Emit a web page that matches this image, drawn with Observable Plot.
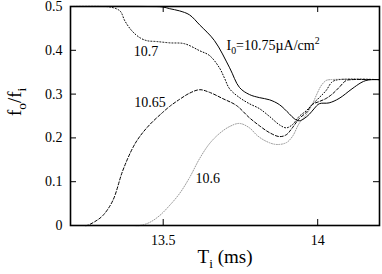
<!DOCTYPE html>
<html>
<head>
<meta charset="utf-8">
<script src="https://cdn.jsdelivr.net/npm/d3@7"></script>
<script src="https://cdn.jsdelivr.net/npm/@observablehq/plot@0.6"></script>
<style>
  html, body { margin: 0; padding: 0; background: white; }
  svg, svg text, svg tspan { font-family: "Liberation Serif", "Times New Roman", Times, "DejaVu Serif", serif !important; }
</style>
</head>
<body>
<script>
// ---- data (T_i in ms, f_o/f_i) ----
const series1075 = [[13.20,0.5],[13.45,0.5],[13.498,0.499],[13.521,0.495],[13.553,0.490],[13.585,0.481],[13.618,0.458],[13.666,0.422],[13.715,0.360],[13.747,0.315],[13.779,0.299],[13.811,0.292],[13.844,0.287],[13.876,0.276],[13.908,0.255],[13.924,0.244],[13.940,0.239],[13.956,0.244],[13.973,0.254],[13.990,0.268],[14.005,0.278],[14.037,0.280],[14.069,0.290],[14.111,0.312],[14.140,0.326],[14.156,0.331],[14.175,0.333],[14.20,0.333]];
const series107 = [[13.20,0.5],[13.30,0.5],[13.327,0.499],[13.360,0.490],[13.376,0.467],[13.398,0.445],[13.424,0.429],[13.447,0.422],[13.479,0.420],[13.521,0.417],[13.569,0.415],[13.618,0.399],[13.650,0.388],[13.682,0.360],[13.698,0.337],[13.715,0.312],[13.747,0.292],[13.779,0.278],[13.811,0.267],[13.844,0.249],[13.876,0.230],[13.898,0.223],[13.918,0.230],[13.940,0.249],[13.963,0.262],[13.982,0.276],[14.005,0.292],[14.027,0.308],[14.047,0.328],[14.069,0.333],[14.20,0.333]];
const series1065 = [[13.20,0],[13.24,0],[13.253,0.0],[13.279,0.009],[13.305,0.023],[13.337,0.057],[13.369,0.125],[13.402,0.178],[13.424,0.203],[13.456,0.230],[13.498,0.258],[13.521,0.272],[13.553,0.288],[13.585,0.302],[13.618,0.310],[13.650,0.304],[13.692,0.290],[13.737,0.274],[13.779,0.246],[13.811,0.228],[13.844,0.212],[13.876,0.203],[13.898,0.207],[13.918,0.223],[13.940,0.244],[13.963,0.258],[13.982,0.276],[14.005,0.283],[14.027,0.290],[14.047,0.300],[14.069,0.315],[14.092,0.331],[14.110,0.333],[14.20,0.333]];
const series106 = [[13.20,0],[13.40,0],[13.424,0.0],[13.456,0.007],[13.489,0.023],[13.521,0.046],[13.553,0.073],[13.585,0.109],[13.618,0.153],[13.650,0.187],[13.682,0.210],[13.715,0.226],[13.747,0.233],[13.779,0.223],[13.805,0.205],[13.834,0.192],[13.866,0.185],[13.898,0.189],[13.918,0.203],[13.940,0.233],[13.963,0.253],[13.982,0.276],[13.998,0.301],[14.011,0.319],[14.027,0.331],[14.040,0.333],[14.20,0.333]];

const xTicks = [13.5, 14];
const xTickLabels = ["13.5", "14"];
const yTicks = [0, 0.1, 0.2, 0.3, 0.4, 0.5];
const yTickLabels = ["0", "0.1", "0.2", "0.3", "0.4", "0.5"];

const labelText = ["10.7", "10.65", "10.6", "I0=10.75µA/cm2"];
const labelT = [13.444, 13.457, 13.644, 13.705];
const labelF = [0.397, 0.280, 0.107, 0.412];

const titleX = "Ti (ms)";
const titleY = "fo/fi";

// ---- chart ----
const W = 382, H = 274, mL = 70, mR = 3, mT = 6, mB = 49;
const fw = W - mL - mR, fh = H - mT - mB, tk = 6;
const FONT = "'Liberation Serif', 'Times New Roman', Times, 'DejaVu Serif', serif";

const lineOpts = {x: d => d[0], y: d => d[1], curve: "catmull-rom", strokeWidth: 1};
const labels = labelText.map((t, i) => ({t, x: labelT[i], y: labelF[i]}));

const svg = Plot.plot({
  width: W, height: H,
  marginLeft: mL, marginRight: mR, marginTop: mT, marginBottom: mB,
  style: {fontSize: "14px", background: "white", color: "black"},
  x: {domain: [13.2, 14.2]},
  y: {domain: [0, 0.5]},
  marks: [
    Plot.line(series106, {...lineOpts, stroke: "#9a9a9a", strokeDasharray: "1,1.5"}),
    Plot.line(series1065, {...lineOpts, stroke: "black", strokeDasharray: "3,2"}),
    Plot.line(series107, {...lineOpts, stroke: "black", strokeDasharray: "1,2"}),
    Plot.line(series1075, {...lineOpts, stroke: "black"}),
    Plot.ruleX(xTicks, {insetTop: fh - tk, strokeWidth: 1}),
    Plot.ruleX(xTicks, {insetBottom: fh - tk, strokeWidth: 1}),
    Plot.ruleY(yTicks, {insetRight: fw - tk, strokeWidth: 1}),
    Plot.ruleY(yTicks, {insetLeft: fw - tk, strokeWidth: 1}),
    Plot.frame({stroke: "black", strokeWidth: 1.6}),
    Plot.axisX({ticks: xTicks, tickSize: 0, tickPadding: 10, tickFormat: (d, i) => xTickLabels[i], label: null, fontSize: 14}),
    Plot.axisY({ticks: yTicks, tickSize: 0, tickPadding: 8, tickFormat: (d, i) => yTickLabels[i], label: null, fontSize: 14}),
    Plot.text(labels.slice(0, 3), {x: "x", y: "y", text: "t", textAnchor: "middle", fontSize: 14}),
    Plot.text(labels.slice(3), {x: "x", y: "y", text: "t", textAnchor: "start", fontSize: 14}),
    Plot.text([titleX], {text: d => d, frameAnchor: "bottom", dy: 37, fontSize: 19}),
    Plot.text([titleY], {text: d => d, frameAnchor: "left", dx: -56, rotate: -90, fontSize: 19})
  ]
});
svg.style.fontFamily = FONT;
document.body.appendChild(svg);

// ---- sub/superscripts ----
const rich = {
  "I0=10.75µA/cm2": [["I"], ["0", "sub"], ["=10.75µA/cm"], ["2", "sup"]],
  "Ti (ms)": [["T"], ["i", "sub"], [" (ms)"]],
  "fo/fi": [["f"], ["o", "sub"], ["/f"], ["i", "sub"]]
};
d3.select(svg).selectAll("text").style("font-family", FONT).each(function() {
  const parts = rich[this.textContent];
  if (!parts) return;
  const fs = parseFloat(getComputedStyle(this).fontSize) || 14;
  const el = d3.select(this);
  el.text(null);
  let shift = 0;
  for (const [s, kind] of parts) {
    const target = kind === "sub" ? fs * 0.3 : kind === "sup" ? -fs * 0.4 : 0;
    const ts = el.append("tspan").text(s).attr("dy", target - shift);
    if (kind) ts.attr("font-size", fs * 0.7);
    shift = target;
  }
});
</script>
</body>
</html>
